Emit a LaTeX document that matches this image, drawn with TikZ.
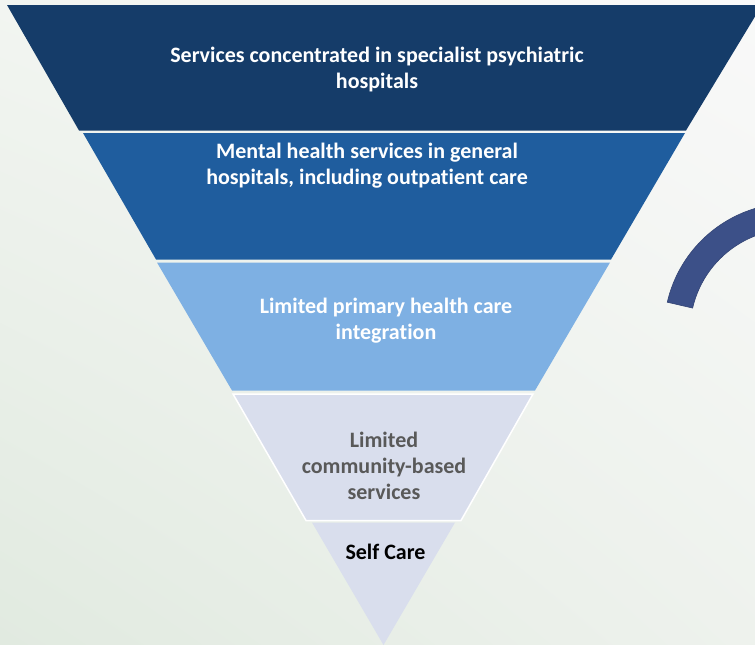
\documentclass[tikz,border=0pt]{standalone}
\usepackage{fontspec}
\setmainfont{Carlito}[Ligatures=NoCommon]
\usetikzlibrary{calc,shadings}

\definecolor{bandone}{HTML}{153C69}
\definecolor{bandtwo}{HTML}{1F5D9E}
\definecolor{bandthree}{HTML}{7EB0E3}
\definecolor{bandfour}{HTML}{D9DEED}
\definecolor{arcblue}{HTML}{3C5088}
\definecolor{greytext}{HTML}{595959}
\definecolor{bgtl}{HTML}{F2F5F1}
\definecolor{bgtr}{HTML}{F9F9F9}
\definecolor{bgbl}{HTML}{E1EAE0}
\definecolor{bgbr}{HTML}{EEF2ED}

\tikzset{
  bandtext/.style={align=center, inner sep=0pt, font=\bfseries\fontsize{22}{26}\selectfont},
}

\begin{document}
\begin{tikzpicture}[x=1pt,y=1pt,yscale=-1]
	\useasboundingbox (0,0) rectangle (755,645);
	
	%Shape: Background
	\shade [upper left=bgtl, upper right=bgtr, lower left=bgbl, lower right=bgbr] (0,0) rectangle (755,645);
	
	%Shape: Band 1
	\fill [bandone] (7,5) -- (762,5) -- (686,130.5) -- (79,130.5) -- cycle;
	%Shape: Band 2
	\fill [bandtwo] (83,133) -- (685,133) -- (611,259.5) -- (156,259.5) -- cycle;
	%Shape: Band 3
	\fill [bandthree] (157,262.5) -- (610,262.5) -- (535,390.5) -- (232,390.5) -- cycle;
	%Shape: Band 4
	\filldraw [fill=bandfour, draw=white, line width=1.5pt] (233,394) -- (533,394) -- (461,520.5) -- (306,520.5) -- cycle;
	%Shape: Band 5
	\fill [bandfour] (312,522.5) -- (455,522.5) -- (383.5,645) -- cycle;
	
	%Shape: Arc
	\coordinate (arcc) at (792,331);
	\begin{scope}
		\clip (0,0) rectangle (755,645);
		\filldraw [fill=arcblue, draw=arcblue!85!black, line width=0.6pt] (arcc) ++(193:128) arc [start angle=193, end angle=300, radius=128] -- ($(arcc)+(300:102)$) arc [start angle=300, end angle=193, radius=102] -- cycle;
	\end{scope}
	
	% Text Node
	\node [bandtext, text=white] (specialist) at (377,70) {Services concentrated in specialist psychiatric\\hospitals};
	% Text Node
	\node [bandtext, text=white] (general) at (367,165.5) {Mental health services in general\\hospitals, including outpatient care};
	% Text Node
	\node [bandtext, text=white] (primary) at (386,321) {Limited primary health care\\integration};
	% Text Node
	\node [bandtext, text=greytext] (community) at (384,466) {Limited\\community-based\\services};
	% Text Node
	\node [bandtext, text=black] (selfcare) at (385.5,552) {Self Care};
	
\end{tikzpicture}
\end{document}
